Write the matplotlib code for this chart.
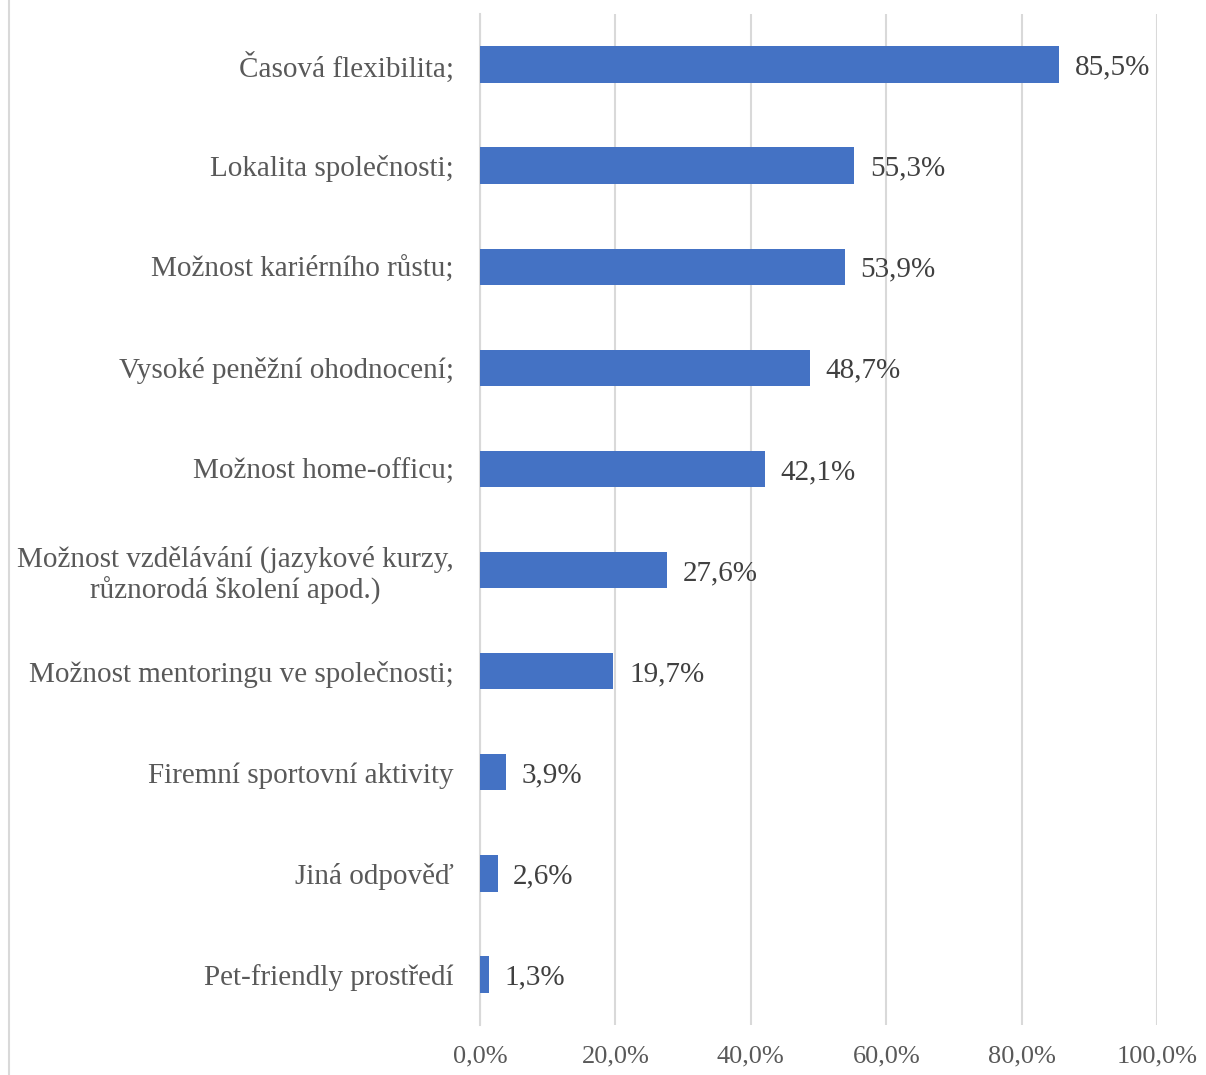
import matplotlib

matplotlib.use("Agg")
import matplotlib.pyplot as plt
from matplotlib.lines import Line2D
from matplotlib.ticker import FuncFormatter

categories = [
    "Časová flexibilita;",
    "Lokalita společnosti;",
    "Možnost kariérního růstu;",
    "Vysoké peněžní ohodnocení;",
    "Možnost home-officu;",
    "Možnost vzdělávání (jazykové kurzy,\nrůznorodá školení apod.)",
    "Možnost mentoringu ve společnosti;",
    "Firemní sportovní aktivity",
    "Jiná odpověď",
    "Pet-friendly prostředí",
]
shares = [85.5, 55.3, 53.9, 48.7, 42.1, 27.6, 19.7, 3.9, 2.6, 1.3]
x_ticks = [0, 20, 40, 60, 80, 100]

BAR_COLOR = "#4472C4"
GRID_COLOR = "#d9d9d9"
LABEL_COLOR = "#595959"
VALUE_COLOR = "#404040"

plt.rcParams["font.family"] = ["Liberation Serif", "DejaVu Serif"]

fig = plt.figure(figsize=(12.06, 10.75), dpi=100)
ax = fig.add_axes([0.398, 0.0465, 0.5615, 0.9405])

y = list(range(len(categories)))
ax.barh(y, shares, height=0.36, color=BAR_COLOR, zorder=3)

for yi, v in zip(y, shares):
    label = f"{v:.1f}%".replace(".", ",")
    ax.text(v + 2.3, yi, label, va="center_baseline", ha="left",
            fontsize=21, color=VALUE_COLOR, zorder=4)

ax.set_xlim(0, 100)
ax.set_ylim(len(categories) - 0.5, -0.5)
ax.set_xticks(x_ticks)
ax.xaxis.set_major_formatter(FuncFormatter(lambda v, _: f"{v:.1f}%".replace(".", ",")))
ax.set_yticks(y)
ax.set_yticklabels(categories, fontsize=21, color=LABEL_COLOR,
                   linespacing=1.2, multialignment="center")
ax.tick_params(axis="x", length=0, pad=15, labelsize=19, labelcolor=LABEL_COLOR)
ax.tick_params(axis="y", length=0, pad=19)

ax.grid(axis="x", color=GRID_COLOR, linewidth=1.5, zorder=0)
for side in ("top", "right", "bottom"):
    ax.spines[side].set_visible(False)
ax.spines["left"].set_color(GRID_COLOR)
ax.spines["left"].set_linewidth(1.5)

# chart area border on the left edge
fig.add_artist(Line2D([9 / 1206, 9 / 1206], [0, 1], transform=fig.transFigure,
                      color=GRID_COLOR, linewidth=1.5))

fig.savefig("out.png", dpi=100)
